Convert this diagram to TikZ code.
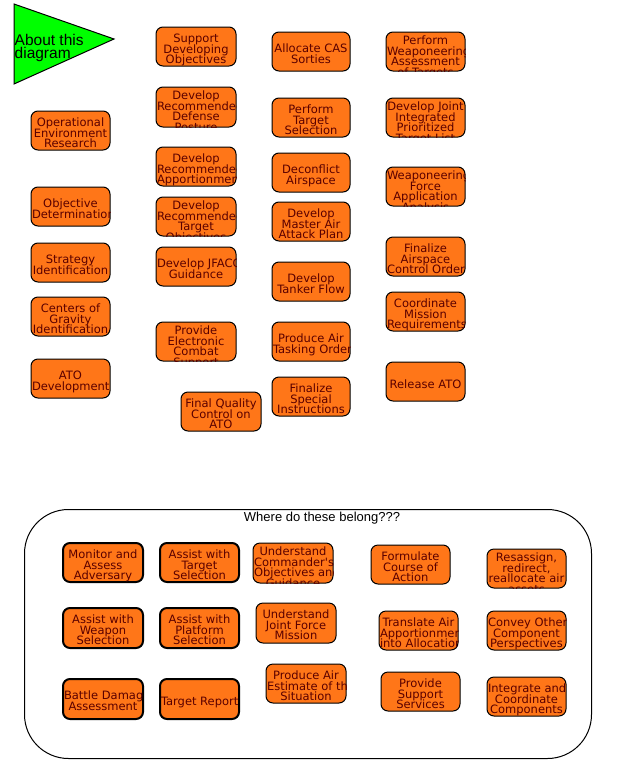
\documentclass[tikz,border=0pt]{standalone}
\usepackage{fontspec}
\setmainfont{Liberation Sans}
\newfontfamily\boxfont{DejaVu Sans}
\definecolor{boxfill}{RGB}{255,118,24}
\definecolor{txtred}{RGB}{90,0,0}
\definecolor{trigreen}{RGB}{0,255,0}
\newlength\bw
\newcommand\Ln[1]{\hbox to \bw{\hskip 0pt plus 1fil\relax #1\hskip 0pt plus 1fil minus 1fil}}
\tikzset{
  procbox/.style={draw=black,fill=boxfill,rounded corners=7pt,inner sep=0pt,outer sep=0pt},
  thinb/.style={line width=1pt},
  thickb/.style={line width=2pt},
  lbl/.style={inner sep=0pt,outer sep=0pt,text=txtred,font=\boxfont\fontsize{11.5}{10.5}\selectfont},
}
\newcommand\bx[8]{%
  \node[procbox,#6,minimum width=#4,minimum height=#5,anchor=north west] (#1) at (#2,#3) {};
  \begin{scope}
    \clip[rounded corners=7pt] (#1.south west) rectangle (#1.north east);
    \setlength\bw{\dimexpr #4pt-2pt\relax}%
    \node[lbl,anchor=base] (#1-t) at ([yshift=-#7pt]#1.north) {\vtop{\hsize=\bw\baselineskip=10.5pt\lineskiplimit=-100pt\lineskip=0pt #8}};
  \end{scope}}
\begin{document}
\begin{tikzpicture}[x=1pt,y=-1pt]
\useasboundingbox (0,0) rectangle (642,769);
% About triangle
\filldraw[fill=trigreen,draw=black,line width=1pt] (14,4) -- (114,39) -- (14,84) -- cycle;
\node[anchor=base west,inner sep=0pt,font=\fontsize{15.5}{13}\selectfont] (about) at (14.5,45.5)
  {\vtop{\baselineskip=13pt\hbox{About this}\hbox{diagram}}};
% Column A
\bx{oer}{31}{111}{79}{39}{thinb}{15.5}{\Ln{Operational}\Ln{Environment}\Ln{Research}}
\bx{objd}{31}{187}{79}{39}{thinb}{20.75}{\Ln{Objective}\Ln{Determination}}
\bx{strat}{31}{243}{79}{39}{thinb}{20.75}{\Ln{Strategy}\Ln{Identification}}
\bx{cog}{31}{297}{79}{39}{thinb}{15.5}{\Ln{Centers of}\Ln{Gravity}\Ln{Identification}}
\bx{atodev}{31}{359}{79}{39}{thinb}{20.75}{\Ln{ATO}\Ln{Development}}
% Column B
\bx{sdo}{156}{27}{80}{39}{thinb}{15.5}{\Ln{Support}\Ln{Developing}\Ln{Objectives}}
\bx{drdp}{156}{87}{80}{40}{thinb}{12.5}{\Ln{Develop}\Ln{Recommended}\Ln{Defense}\Ln{Posture}}
\bx{drap}{156}{147}{80}{39}{thinb}{15.5}{\Ln{Develop}\Ln{Recommended}\Ln{Apportionment}}
\bx{drto}{156}{197}{80}{39}{thinb}{12.5}{\Ln{Develop}\Ln{Recommended}\Ln{Target}\Ln{Objectives}}
\bx{jfacc}{156}{247}{80}{39}{thinb}{20.75}{\Ln{Develop JFACC}\Ln{Guidance}}
\bx{pec}{156}{322}{80}{39}{thinb}{12.5}{\Ln{Provide}\Ln{Electronic}\Ln{Combat}\Ln{Support}}
\bx{fqc}{181}{392}{80}{39}{thinb}{15.5}{\Ln{Final Quality}\Ln{Control on}\Ln{ATO}}
% Column C
\bx{cas}{272}{32}{78}{39}{thinb}{20.75}{\Ln{Allocate CAS}\Ln{Sorties}}
\bx{pts}{272}{98}{78}{39}{thinb}{15.5}{\Ln{Perform}\Ln{Target}\Ln{Selection}}
\bx{deconf}{272}{153}{78}{39}{thinb}{20.75}{\Ln{Deconflict}\Ln{Airspace}}
\bx{maap}{272}{202}{78}{39}{thinb}{15.5}{\Ln{Develop}\Ln{Master Air}\Ln{Attack Plan}}
\bx{tanker}{272}{262}{78}{39}{thinb}{20.75}{\Ln{Develop}\Ln{Tanker Flow}}
\bx{atoprod}{272}{322}{78}{39}{thinb}{20.75}{\Ln{Produce Air}\Ln{Tasking Order}}
\bx{spins}{272}{377}{78}{39}{thinb}{15.5}{\Ln{Finalize}\Ln{Special}\Ln{Instructions}}
% Column D
\bx{pwa}{386}{32}{79}{39}{thinb}{12.5}{\Ln{Perform}\Ln{Weaponeering}\Ln{Assessment}\Ln{of Targets}}
\bx{djipl}{386}{98}{79}{39}{thinb}{12.5}{\Ln{Develop Joint}\Ln{Integrated}\Ln{Prioritized}\Ln{Target List}}
\bx{wfa}{386}{167}{79}{39}{thinb}{12.5}{\Ln{Weaponeering}\Ln{Force}\Ln{Application}\Ln{Analysis}}
\bx{faco}{386}{237}{79}{39}{thinb}{15.5}{\Ln{Finalize}\Ln{Airspace}\Ln{Control Order}}
\bx{cmr}{386}{292}{79}{39}{thinb}{15.5}{\Ln{Coordinate}\Ln{Mission}\Ln{Requirements}}
\bx{rel}{386}{362}{79}{39}{thinb}{26}{\Ln{Release ATO}}
% Bottom container
\node[draw=black,line width=1pt,rounded corners=44pt,minimum width=567,minimum height=249,anchor=north west,inner sep=0pt] (bin) at (24,509) {};
\node[anchor=base,inner sep=0pt,font=\fontsize{13}{15}\selectfont] (title) at (322,521) {Where do these belong???};
\bx{maa}{63}{543}{80}{39}{thickb}{15.5}{\Ln{Monitor and}\Ln{Assess}\Ln{Adversary}}
\bx{atsel}{160}{543}{79}{39}{thickb}{15.5}{\Ln{Assist with}\Ln{Target}\Ln{Selection}}
\bx{ucog}{253}{543}{80}{40}{thinb}{12.5}{\Ln{Understand}\Ln{Commander's}\Ln{Objectives and}\Ln{Guidance}}
\bx{formulate}{371}{545}{79}{39}{thinb}{15.5}{\Ln{Formulate}\Ln{Course of}\Ln{Action}}
\bx{resassign}{487}{549}{79}{39}{thinb}{12.5}{\Ln{Resassign,}\Ln{redirect,}\Ln{reallocate air}\Ln{assets}}
\bx{awsel}{63}{608}{80}{40}{thickb}{15.5}{\Ln{Assist with}\Ln{Weapon}\Ln{Selection}}
\bx{apsel}{160}{608}{79}{40}{thickb}{15.5}{\Ln{Assist with}\Ln{Platform}\Ln{Selection}}
\bx{ujfm}{256}{603}{80}{40}{thinb}{15.5}{\Ln{Understand}\Ln{Joint Force}\Ln{Mission}}
\bx{translate}{379}{611}{79}{39}{thinb}{15.5}{\Ln{Translate Air}\Ln{Apportionment}\Ln{into Allocation}}
\bx{convey}{487}{611}{79}{39}{thinb}{15.5}{\Ln{Convey Other}\Ln{Component}\Ln{Perspectives}}
\bx{bda}{63}{679}{80}{40}{thickb}{20.75}{\Ln{Battle Damage}\Ln{Assessment}}
\bx{tr}{160}{679}{79}{40}{thickb}{26}{\Ln{Target Report}}
\bx{paes}{266}{664}{80}{39}{thinb}{15.5}{\Ln{Produce Air}\Ln{Estimate of the}\Ln{Situation}}
\bx{pss}{381}{672}{79}{39}{thinb}{15.5}{\Ln{Provide}\Ln{Support}\Ln{Services}}
\bx{integ}{487}{677}{79}{39}{thinb}{15.5}{\Ln{Integrate and}\Ln{Coordinate}\Ln{Components}}
\end{tikzpicture}
\end{document}
